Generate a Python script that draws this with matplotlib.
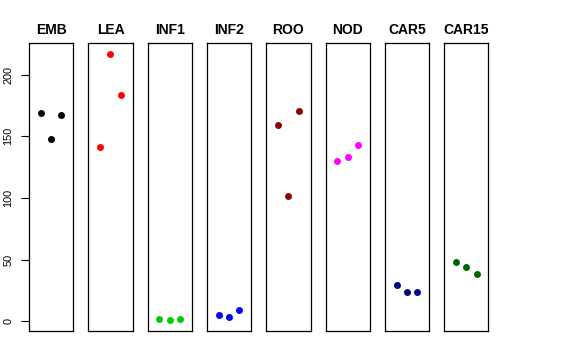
import matplotlib
matplotlib.use("Agg")
import matplotlib.pyplot as plt

tissues = ["EMB", "LEA", "INF1", "INF2", "ROO", "NOD", "CAR5", "CAR15"]
emb = [169.3, 147.6, 167.5]
lea = [141.7, 216.8, 183.2]
inf1 = [2.1, 0.8, 2.1]
inf2 = [4.9, 3.7, 9.4]
roo = [159.3, 101.9, 170.4]
nod = [130.1, 133.0, 143.3]
car5 = [29.5, 24.1, 23.6]
car15 = [48.5, 44.4, 38.7]
series = [emb, lea, inf1, inf2, roo, nod, car5, car15]
colors = ["#000000", "#FF0000", "#00CD00", "#0000FF",
          "#8B0000", "#FF00FF", "#00008B", "#006400"]
yticks = [0, 50, 100, 150, 200]
reps = [1, 2, 3]

plt.rcParams["font.family"] = ["Liberation Sans", "DejaVu Sans"]

W, H = 576, 360
fig = plt.figure(figsize=(W / 100, H / 100), dpi=100)

all_vals = [v for s in series for v in s]
ymin, ymax = min(all_vals), max(all_vals)
pad = (ymax - ymin) * 0.04
ylim = (ymin - pad, ymax + pad)

left0, step, width = 29.0, 59.3, 44.3
top, bottom = 43.3, 331.0

for i, (name, vals, col) in enumerate(zip(tissues, series, colors)):
    x0 = left0 + i * step
    ax = fig.add_axes([x0 / W, (H - bottom) / H, width / W, (bottom - top) / H])
    ax.plot(reps, vals, "o", color=col, markersize=5, markeredgewidth=0)
    ax.set_xlim(-0.16, 4.16)
    ax.set_ylim(*ylim)
    ax.set_xticks([])
    for sp in ax.spines.values():
        sp.set_linewidth(0.9)
        sp.set_color("black")
    ax.set_title(name, fontsize=10, fontweight="bold", pad=7)
    if i == 0:
        ax.set_yticks(yticks)
        ax.tick_params(axis="y", length=5.8, width=0.8, pad=5.5,
                       labelsize=7.8, labelrotation=90)
        for lab in ax.get_yticklabels():
            lab.set_va("center")
    else:
        ax.set_yticks([])

fig.savefig("out.png", dpi=100)
